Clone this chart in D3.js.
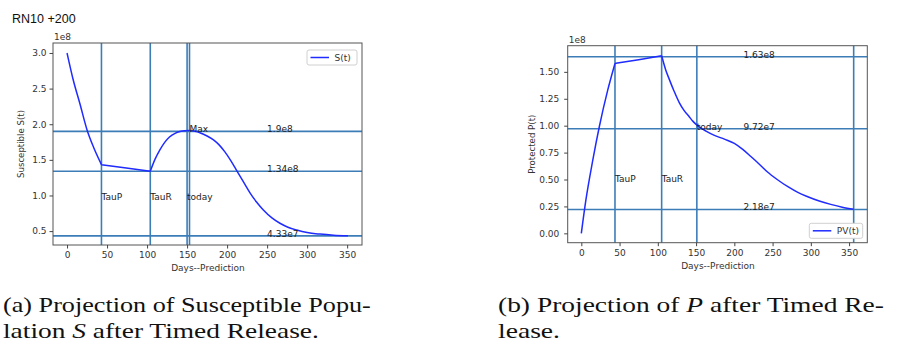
<!DOCTYPE html>
<html>
<head>
<meta charset="utf-8">
<script src="https://cdn.jsdelivr.net/npm/d3@7"></script>
<style>
  body { margin: 0; background: #fff; }
  svg { display: block; }
  .tick text { font-family: "DejaVu Sans", sans-serif; font-size: 9px; fill: #333; }
  .tick line { stroke: #444; }
  .domain { stroke: none; }
</style>
</head>
<body>
<svg id="chart"></svg>
<script>
let width = 899
let height = 346

// values are in units of 1e8
let sDays = [0, 8, 16, 25, 33, 43, 74, 104, 110, 116, 122, 128, 135, 141, 147, 153, 160, 166, 175, 183, 190, 197, 204, 212, 221, 229, 237, 245, 256, 266, 276, 287, 300, 316, 333, 351]
let sValues = [3.0, 2.61, 2.29, 1.92, 1.68, 1.433, 1.385, 1.34, 1.51, 1.64, 1.745, 1.82, 1.872, 1.897, 1.909, 1.912, 1.90, 1.88, 1.835, 1.78, 1.71, 1.615, 1.50, 1.35, 1.18, 1.03, 0.905, 0.80, 0.685, 0.61, 0.555, 0.515, 0.48, 0.458, 0.443, 0.435]
// days where the curve has a corner (TauP, TauR)
let sBreaks = [43, 104]

let pDays = [0, 6, 15, 23.5, 34.5, 44, 75, 105, 110, 115, 121, 128, 134, 141, 146, 152, 163, 174, 187, 200, 211, 222, 233, 243, 256, 270, 283, 296, 311, 326, 341, 356]
let pValues = [0, 0.31, 0.68, 0.99, 1.33, 1.578, 1.613, 1.649, 1.525, 1.43, 1.325, 1.215, 1.145, 1.083, 1.04, 1.0, 0.95, 0.91, 0.875, 0.836, 0.78, 0.711, 0.64, 0.572, 0.50, 0.433, 0.38, 0.34, 0.30, 0.269, 0.243, 0.224]
let pBreaks = [44, 105]

let xTicks = [0, 50, 100, 150, 200, 250, 300, 350]
let sTicks = [0.5, 1.0, 1.5, 2.0, 2.5, 3.0]
let pTicks = [0, 0.25, 0.5, 0.75, 1.0, 1.25, 1.5]

let sVLines = [43, 104, 150, 153]
let sHLines = [1.9, 1.34, 0.433]
let pVLines = [44, 105, 151, 356]
let pHLines = [1.64, 0.972, 0.222]

let sNotes = [
  {text: "TauP", x: 43, y: 0.95},
  {text: "TauR", x: 104, y: 0.95},
  {text: "today", x: 150, y: 0.95},
  {text: "Max", x: 153, y: 1.9},
  {text: "1.9e8", x: 250, y: 1.9},
  {text: "1.34e8", x: 250, y: 1.34},
  {text: "4.33e7", x: 250, y: 0.433}
]
let pNotes = [
  {text: "TauP", x: 44, y: 0.49},
  {text: "TauR", x: 105, y: 0.49},
  {text: "today", x: 151, y: 0.972},
  {text: "1.63e8", x: 212, y: 1.64},
  {text: "9.72e7", x: 212, y: 0.972},
  {text: "2.18e7", x: 212, y: 0.222}
]

let svg = d3.select('#chart')
svg.attr("width", width).attr("height", height)

svg.append("text")
   .attr("x", 12).attr("y", 22.5)
   .attr("font-family", "'Liberation Sans', Arial, sans-serif")
   .attr("font-size", 12.5)
   .attr("fill", "#111")
   .text("RN10 +200")

let lineColor = "#3c7db8"
let curveColor = "#1f2bff"

let makePanel = (cfg) => {
  let g = svg.append("g")
  let xScale = d3.scaleLinear().domain(cfg.xDomain).range([cfg.left, cfg.right])
  let yScale = d3.scaleLinear().domain(cfg.yDomain).range([cfg.bottom, cfg.top])

  // reference lines
  g.selectAll(".vline").data(cfg.vlines).enter().append("line")
   .attr("x1", d => xScale(d)).attr("x2", d => xScale(d))
   .attr("y1", cfg.top).attr("y2", cfg.bottom)
   .attr("stroke", lineColor).attr("stroke-width", 1.6)
  g.selectAll(".hline").data(cfg.hlines).enter().append("line")
   .attr("x1", cfg.left).attr("x2", cfg.right)
   .attr("y1", d => yScale(d)).attr("y2", d => yScale(d))
   .attr("stroke", lineColor).attr("stroke-width", 1.6)

  // split the curve at its corners so the smoothing keeps them sharp
  let pts = cfg.days.map((d, i) => [d, cfg.values[i]])
  let cuts = [cfg.days[0], ...cfg.breaks, cfg.days[cfg.days.length - 1]]
  let segments = []
  for (let k = 0; k < cuts.length - 1; k++) {
    segments.push(pts.filter(p => p[0] >= cuts[k] && p[0] <= cuts[k + 1]))
  }
  let line = d3.line()
               .x(d => xScale(d[0]))
               .y(d => yScale(d[1]))
               .curve(d3.curveMonotoneX)
  g.append("path")
   .attr("d", segments.map(s => line(s)).join(""))
   .attr("fill", "none")
   .attr("stroke", curveColor)
   .attr("stroke-width", 1.5)
   .attr("stroke-linejoin", "round")

  g.selectAll(".note").data(cfg.notes).enter().append("text")
   .attr("x", d => xScale(d.x))
   .attr("y", d => yScale(d.y) + 1)
   .attr("font-family", "'DejaVu Sans', sans-serif")
   .attr("font-size", 9)
   .attr("fill", "#222")
   .text(d => d.text)

  // frame
  g.append("rect")
   .attr("x", cfg.left).attr("y", cfg.top)
   .attr("width", cfg.right - cfg.left).attr("height", cfg.bottom - cfg.top)
   .attr("fill", "none").attr("stroke", "#555").attr("stroke-width", 1)

  let xAxis = d3.axisBottom(xScale).tickValues(xTicks).tickSize(3.5).tickPadding(3.5).tickFormat(d3.format("d"))
  g.append("g")
   .attr("transform", "translate(0," + cfg.bottom + ")")
   .call(xAxis)
  let yAxis = d3.axisLeft(yScale).tickValues(cfg.yTicks).tickSize(3.5).tickPadding(cfg.yPad).tickFormat(d3.format(cfg.yFormat))
  g.append("g")
   .attr("transform", "translate(" + cfg.left + ",0)")
   .call(yAxis)

  g.append("text")
   .attr("x", cfg.left + 1).attr("y", cfg.top - 3)
   .attr("font-family", "'DejaVu Sans', sans-serif")
   .attr("font-size", 9).attr("fill", "#333")
   .text("1e8")

  g.append("text")
   .attr("x", (cfg.left + cfg.right) / 2 + 0.5).attr("y", cfg.bottom + 26)
   .attr("text-anchor", "middle")
   .attr("font-family", "'DejaVu Sans', sans-serif")
   .attr("font-size", 9).attr("fill", "#333")
   .text("Days--Prediction")

  g.append("text")
   .attr("transform", "translate(" + cfg.yLabelX + "," + (cfg.top + cfg.bottom) / 2 + ") rotate(-90)")
   .attr("text-anchor", "middle")
   .attr("font-family", "'DejaVu Sans', sans-serif")
   .attr("font-size", 8.6).attr("fill", "#333")
   .text(cfg.yLabel)

  // legend
  let lg = g.append("g").attr("transform", "translate(" + cfg.legend[0] + "," + cfg.legend[1] + ")")
  lg.append("rect")
    .attr("width", cfg.legendW).attr("height", 15).attr("rx", 2)
    .attr("fill", "#fff").attr("stroke", "#d0d0d0")
  lg.append("line")
    .attr("x1", 3.5).attr("x2", 22).attr("y1", 7.5).attr("y2", 7.5)
    .attr("stroke", curveColor).attr("stroke-width", 1.5)
  lg.append("text")
    .attr("x", 27.5).attr("y", 10.8)
    .attr("font-family", "'DejaVu Sans', sans-serif")
    .attr("font-size", 9).attr("fill", "#333")
    .text(cfg.legendText)
}

makePanel({
  left: 53, right: 362, top: 43, bottom: 245,
  xDomain: [-17.55, 368.55], yDomain: [0.305, 3.14],
  days: sDays, values: sValues, breaks: sBreaks,
  vlines: sVLines, hlines: sHLines, notes: sNotes,
  yTicks: sTicks, yFormat: ".1f", yPad: 3,
  yLabel: "Susceptible S(t)", yLabelX: 24,
  legend: [307, 50], legendW: 50, legendText: "S(t)"
})

makePanel({
  left: 567.7, right: 867.3, top: 45.7, bottom: 242.7,
  xDomain: [-17.8, 373.8], yDomain: [-0.087, 1.743],
  days: pDays, values: pValues, breaks: pBreaks,
  vlines: pVLines, hlines: pHLines, notes: pNotes,
  yTicks: pTicks, yFormat: ".2f", yPad: 5,
  yLabel: "Protected P(t)", yLabelX: 534.5,
  legend: [809.3, 223.3], legendW: 53.4, legendText: "PV(t)"
})

// captions, stretched to the widths seen in the figure
let captions = [
  {x: 3, y: 312, w: 368, parts: [["(a) Projection of Susceptible Popu-", false]]},
  {x: 3, y: 337.5, w: 316, parts: [["lation ", false], ["S", true], [" after Timed Release.", false]]},
  {x: 498, y: 312, w: 386, parts: [["(b) Projection of ", false], ["P", true], [" after Timed Re-", false]]},
  {x: 498, y: 337.5, w: 62, parts: [["lease.", false]]}
]
captions.forEach(c => {
  let t = svg.append("text")
             .attr("x", 0).attr("y", 0)
             .attr("font-family", "'Liberation Serif', 'Times New Roman', serif")
             .attr("font-size", 22)
             .attr("fill", "#111")
  c.parts.forEach(p => {
    t.append("tspan").attr("font-style", p[1] ? "italic" : "normal").text(p[0])
  })
  let w = t.node().getComputedTextLength()
  t.attr("transform", "translate(" + c.x + "," + c.y + ") scale(" + (c.w / w) + ",1)")
})
</script>
</body>
</html>
